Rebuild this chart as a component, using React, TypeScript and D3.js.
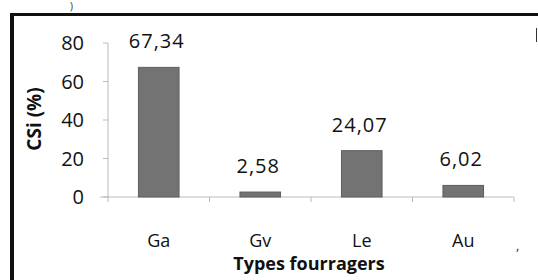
import React from 'react';
import * as d3 from 'd3';

const categories = ['Ga', 'Gv', 'Le', 'Au'];
const values = [67.34, 2.58, 24.07, 6.02];
const valueLabels = ['67,34', '2,58', '24,07', '6,02'];
const yTicks = [0, 20, 40, 60, 80];

const W = 538;
const H = 280;
const font = "'Open Sans', 'Noto Sans', sans-serif";

export default function App() {
  // échelles
  const y = d3.scaleLinear().domain([0, 80]).range([197, 43]);
  const x = d3
    .scaleBand()
    .domain(categories)
    .range([108, 514])
    .paddingInner(0.6)
    .paddingOuter(0.3);
  const step = x.step();
  const gap = (step - x.bandwidth()) / 2;
  const bounds = categories.map((c) => (x(c) as number) - gap).concat([514]);

  return (
    <svg
      width={W}
      height={H}
      style={{ position: 'absolute', left: 0, top: 0, background: '#fff' }}
      fontFamily={font}
    >
      {/* cadre */}
      <line x1={12} y1={14.5} x2={538} y2={14.5} stroke="#111" strokeWidth={3} />
      <line x1={12} y1={13} x2={12} y2={280} stroke="#111" strokeWidth={4} />
      <line x1={536.5} y1={28} x2={536.5} y2={42} stroke="#333" strokeWidth={1} />
      <text x={70} y={10} fontSize={10} fill="#333">)</text>

      {/* axe Y */}
      <line x1={108} y1={y(80)} x2={108} y2={y(0)} stroke="#bbb" />
      {yTicks.map((t) => (
        <g key={t}>
          <line x1={103} y1={y(t)} x2={108} y2={y(t)} stroke="#bbb" />
          <text x={84} y={y(t)} dy="0.35em" textAnchor="end" fontSize={20} fill="#111">
            {t}
          </text>
        </g>
      ))}

      {/* axe X */}
      <line x1={100} y1={y(0)} x2={514} y2={y(0)} stroke="#bbb" />
      {bounds.map((b, i) => (
        <line key={i} x1={b} y1={y(0)} x2={b} y2={y(0) + 5} stroke="#bbb" />
      ))}

      {/* barres */}
      {categories.map((c, i) => (
        <g key={c}>
          <rect
            x={x(c)}
            y={y(values[i])}
            width={x.bandwidth()}
            height={y(0) - y(values[i])}
            fill="#737373"
            stroke="#5e5e5e"
            strokeWidth={1}
          />
          <text
            x={(x(c) as number) + x.bandwidth() / 2 - 2}
            y={y(values[i]) - 19}
            textAnchor="middle"
            fontSize={20}
            letterSpacing={1}
            fill="#111"
          >
            {valueLabels[i]}
          </text>
          <text
            x={(x(c) as number) + x.bandwidth() / 2}
            y={247}
            textAnchor="middle"
            fontSize={18}
            fill="#111"
          >
            {c}
          </text>
        </g>
      ))}
      <text x={516} y={250} fontSize={13} fill="#333">,</text>

      {/* titres */}
      <text x={309} y={270} textAnchor="middle" fontSize={18} fontWeight="bold" fill="#111">
        Types fourragers
      </text>
      <text
        transform="translate(41,119) rotate(-90)"
        textAnchor="middle"
        fontSize={19}
        fontWeight="bold"
        fill="#111"
      >
        CSi (%)
      </text>
    </svg>
  );
}
